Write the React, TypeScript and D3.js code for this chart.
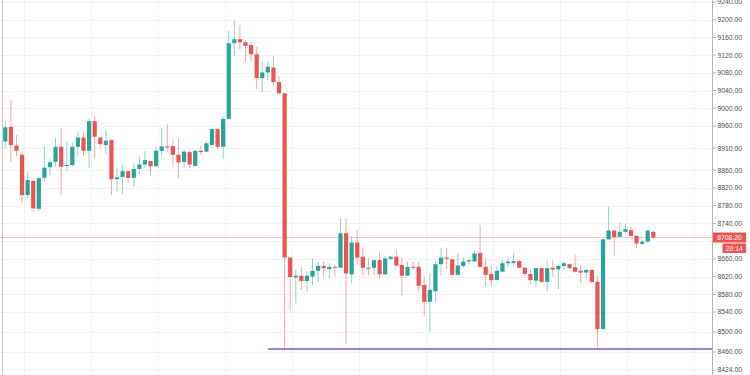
import React from "react";
import * as d3 from "d3";

// OHLC per bar (one bar every few minutes)
const opens = [
  8925, 8958, 8916, 8895, 8804, 8836, 8773, 8843, 8867, 8879,
  8913, 8870, 8872, 8913, 8934, 8904, 8971, 8934, 8917, 8928,
  8840, 8845, 8858, 8843, 8863, 8873, 8881, 8869, 8904, 8914,
  8915, 8895, 8879, 8901, 8870, 8904, 8902, 8917, 8953, 8913,
  8976, 9147, 9156, 9149, 9143, 9122, 9068, 9081, 9092, 9059,
  9034, 8663, 8618, 8622, 8610, 8620, 8633, 8644, 8637, 8642,
  8640, 8718, 8625, 8697, 8665, 8640, 8640, 8657, 8625, 8660,
  8665, 8646, 8622, 8642, 8642, 8601, 8563, 8587, 8648, 8663,
  8659, 8624, 8644, 8654, 8654, 8673, 8642, 8626, 8612, 8631,
  8650, 8651, 8655, 8640, 8626, 8611, 8639, 8608, 8640, 8636,
  8644, 8648, 8641, 8633, 8629, 8635, 8608, 8506, 8704, 8724,
  8710, 8721, 8725, 8712, 8694, 8699, 8721,
];
const highs = [
  8971, 9019, 8940, 8904, 8857, 8838, 8846, 8913, 8887, 8934,
  8955, 8925, 8923, 8947, 8946, 8977, 8983, 8934, 8951, 8931,
  8865, 8872, 8861, 8876, 8891, 8904, 8881, 8913, 8955, 8964,
  8932, 8931, 8906, 8906, 8906, 8915, 8926, 8955, 8955, 8981,
  9175, 9197, 9188, 9154, 9150, 9139, 9105, 9107, 9119, 9073,
  9034, 8663, 8635, 8642, 8631, 8661, 8654, 8654, 8650, 8646,
  8752, 8752, 8712, 8725, 8685, 8663, 8657, 8675, 8667, 8666,
  8680, 8663, 8654, 8654, 8654, 8620, 8627, 8654, 8684, 8685,
  8659, 8673, 8663, 8663, 8678, 8736, 8661, 8644, 8643, 8657,
  8663, 8674, 8657, 8642, 8635, 8639, 8640, 8656, 8656, 8646,
  8654, 8648, 8669, 8644, 8636, 8636, 8621, 8706, 8778, 8724,
  8742, 8740, 8733, 8712, 8704, 8724, 8724,
];
const lows = [
  8910, 8879, 8891, 8785, 8797, 8766, 8768, 8833, 8849, 8868,
  8804, 8858, 8868, 8893, 8892, 8865, 8887, 8910, 8898, 8804,
  8812, 8806, 8833, 8823, 8851, 8866, 8848, 8869, 8891, 8902,
  8868, 8842, 8866, 8865, 8868, 8895, 8901, 8916, 8910, 8885,
  8976, 9117, 9132, 9105, 9104, 9043, 9036, 9064, 9053, 9030,
  8465, 8542, 8560, 8590, 8585, 8601, 8608, 8618, 8616, 8620,
  8640, 8475, 8605, 8646, 8622, 8622, 8624, 8616, 8625, 8657,
  8642, 8577, 8622, 8635, 8586, 8531, 8501, 8562, 8622, 8637,
  8620, 8623, 8640, 8648, 8654, 8639, 8597, 8599, 8612, 8629,
  8642, 8644, 8639, 8621, 8601, 8596, 8606, 8586, 8620, 8591,
  8635, 8636, 8629, 8605, 8616, 8603, 8465, 8505, 8704, 8666,
  8709, 8718, 8710, 8684, 8691, 8697, 8704,
];
const closes = [
  8957, 8917, 8904, 8804, 8838, 8774, 8842, 8866, 8878, 8913,
  8868, 8872, 8913, 8934, 8904, 8971, 8936, 8919, 8927, 8840,
  8844, 8858, 8843, 8863, 8873, 8883, 8869, 8904, 8914, 8913,
  8895, 8878, 8902, 8873, 8904, 8901, 8921, 8953, 8913, 8976,
  9147, 9156, 9149, 9141, 9122, 9068, 9081, 9094, 9059, 9034,
  8663, 8619, 8622, 8610, 8622, 8633, 8644, 8639, 8642, 8640,
  8718, 8627, 8697, 8663, 8640, 8639, 8657, 8625, 8661, 8665,
  8645, 8622, 8642, 8641, 8599, 8563, 8590, 8648, 8663, 8660,
  8624, 8645, 8654, 8657, 8672, 8642, 8624, 8612, 8633, 8650,
  8654, 8655, 8640, 8626, 8612, 8639, 8608, 8639, 8636, 8644,
  8650, 8639, 8631, 8629, 8635, 8608, 8506, 8704, 8724, 8709,
  8721, 8727, 8712, 8695, 8699, 8724, 8708.2,
];

const priceTicks = [
  9240, 9200, 9160, 9120, 9080, 9040, 9000, 8960, 8910, 8860, 8820,
  8780, 8740, 8700, 8660, 8620, 8580, 8540, 8500, 8460, 8424,
];
const lastPrice = 8708.2;
const countdown = "20:14";
const supportLevel = 8466;
const supportFromBar = 47;

const W = 750;
const H = 375;
const axisX = 712.5;
const UP = "#26a69a";
const DOWN = "#ef5350";

export default function App() {
  const n = closes.length;
  const x = d3.scaleLinear().domain([0, n - 1]).range([5.3, 653.3]);
  // the price axis of the reference is a little stretched below 8540
  const y = d3.scaleLinear().domain([8424, 8540, 9240]).range([370, 312, 2]);
  const bodyW = 4.2;
  const gridBars = d3.range(3.3, 130, 12);
  const font = "'Liberation Sans', Arial, sans-serif";
  // labels hidden behind the last-price badge are not drawn (like the reference)
  const shownTicks = priceTicks.filter((t) => Math.abs(y(t) - y(lastPrice)) > 8);

  return (
    <svg
      width={W}
      height={H}
      style={{ position: "absolute", left: 0, top: 0, background: "#fff" }}
    >
      {/* grid */}
      <g stroke="#f0f3fa" strokeWidth={1}>
        {priceTicks.map((t) => (
          <line key={"h" + t} x1={0} x2={axisX} y1={Math.round(y(t)) + 0.5} y2={Math.round(y(t)) + 0.5} />
        ))}
        {gridBars.map((b) => (
          <line key={"v" + b} x1={Math.round(x(b)) + 0.5} x2={Math.round(x(b)) + 0.5} y1={0} y2={H} />
        ))}
      </g>
      <line x1={2.5} x2={2.5} y1={0} y2={H} stroke="#c9cbd1" />

      {/* last price line */}
      <line
        x1={0}
        x2={axisX}
        y1={y(lastPrice)}
        y2={y(lastPrice)}
        stroke={DOWN}
        strokeOpacity={0.3}
      />

      {/* candles */}
      {closes.map((c, i) => {
        const o = opens[i];
        const col = c >= o ? UP : DOWN;
        const cx = x(i);
        const top = y(Math.max(o, c));
        const bot = y(Math.min(o, c));
        return (
          <g key={i}>
            <line
              x1={cx}
              x2={cx}
              y1={y(highs[i])}
              y2={y(lows[i])}
              stroke={col}
              strokeOpacity={0.5}
              strokeWidth={1}
            />
            <rect
              x={cx - bodyW / 2}
              y={top}
              width={bodyW}
              height={Math.max(1, bot - top)}
              fill={col}
            />
          </g>
        );
      })}

      {/* horizontal support drawing */}
      <line
        x1={x(supportFromBar)}
        x2={axisX}
        y1={y(supportLevel)}
        y2={y(supportLevel)}
        stroke="#7e57c2"
        strokeWidth={1.6}
      />

      {/* price axis */}
      <rect x={axisX} y={0} width={W - axisX} height={H} fill="#fff" />
      <line x1={axisX} x2={axisX} y1={0} y2={H} stroke="#b2b5be" />
      {priceTicks.map((t) => (
        <line key={"k" + t} x1={axisX} x2={axisX + 3.5} y1={y(t)} y2={y(t)} stroke="#b2b5be" />
      ))}
      {shownTicks.map((t) => (
        <text
          key={"t" + t}
          x={717.5}
          y={y(t)}
          dy="0.35em"
          fontSize={6.8}
          fontFamily={font}
          fill="#4e5058"
        >
          {d3.format(".2f")(t)}
        </text>
      ))}
      <rect x={axisX + 0.5} y={y(lastPrice) - 5} width={33} height={10} fill={DOWN} />
      <text
        x={axisX + 0.5 + 16.5}
        y={y(lastPrice)}
        dy="0.35em"
        textAnchor="middle"
        fontSize={6.8}
        fontFamily={font}
        fill="#fff"
      >
        {d3.format(".2f")(lastPrice)}
      </text>
      <rect x={722.5} y={y(lastPrice) + 6} width={23.5} height={9.5} fill={DOWN} />
      <text
        x={734.2}
        y={y(lastPrice) + 10.75}
        dy="0.35em"
        textAnchor="middle"
        fontSize={6.8}
        fontFamily={font}
        fill="#fff"
      >
        {countdown}
      </text>
    </svg>
  );
}
